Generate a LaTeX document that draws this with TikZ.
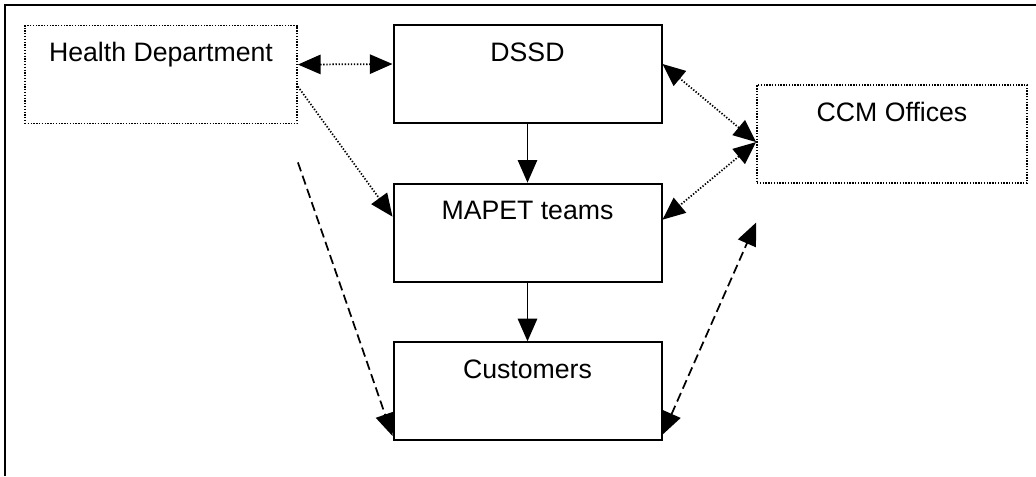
\documentclass[tikz,border=0pt]{standalone}
\usepackage{fontspec}
\setmainfont{Liberation Sans}
\usetikzlibrary{arrows.meta,positioning}

\begin{document}
\begin{tikzpicture}[x=0.75pt,y=-0.75pt,
  >={Triangle[length=17pt,width=14.5pt]},
  box/.style={draw,line width=1.5pt,minimum width=201pt,inner sep=0pt,
    text height=27pt,text depth=46.5pt,font=\fontsize{20pt}{24pt}\selectfont},
  dotbox/.style={box,line width=1.4pt,dash pattern=on 1pt off 1.1pt},
  solidline/.style={line width=1.4pt},
  dotline/.style={line width=1.3pt,dash pattern=on 1pt off 1.3pt},
  dashline/.style={line width=1.3pt,dash pattern=on 7pt off 3.5pt}]

\useasboundingbox (0,0) rectangle (1036,476);

% Khung ngoai
\draw[line width=2pt] (5,476) -- (5,5) -- (1036,5);

% Cac khoi
\node[box] (dssd) at (527.5,74) {DSSD};
\node[box,below=44pt of dssd] (mapet) {MAPET teams};
\node[box,below=44pt of mapet] (cust) {Customers};
\node[dotbox,minimum width=204pt] (health) at (161,74.5) {Health Department};
\node[dotbox,minimum width=202.5pt] (ccm) at (892,134) {CCM Offices};

% Mui ten lien
\draw[solidline,->] (dssd.south) -- (mapet.north);
\draw[solidline,->] (mapet.south) -- (cust.north);

% Mui ten cham
\draw[dotline,<->] ([yshift=-30pt]health.north east) -- ([yshift=-30pt]dssd.north west);
\draw[dotline,->] ([yshift=-46.5pt]health.north east) -- ([yshift=-25.5pt]mapet.north west);
\coordinate (ccmin) at ([yshift=-43.5pt]ccm.north west);
\draw[dotline,<->] (ccmin) -- ([yshift=-30pt]dssd.north east);
\draw[dotline,<->] (ccmin) -- ([yshift=-27.75pt]mapet.north east);

% Mui ten gach
\coordinate (dstart) at ([yshift=-28.5pt]health.south east);
\draw[dashline,->] (dstart) -- ([yshift=4pt]cust.south west);
\draw[dashline,<->] ([yshift=5pt]cust.south east) -- ([yshift=-29pt]ccm.south west);

\end{tikzpicture}
\end{document}
